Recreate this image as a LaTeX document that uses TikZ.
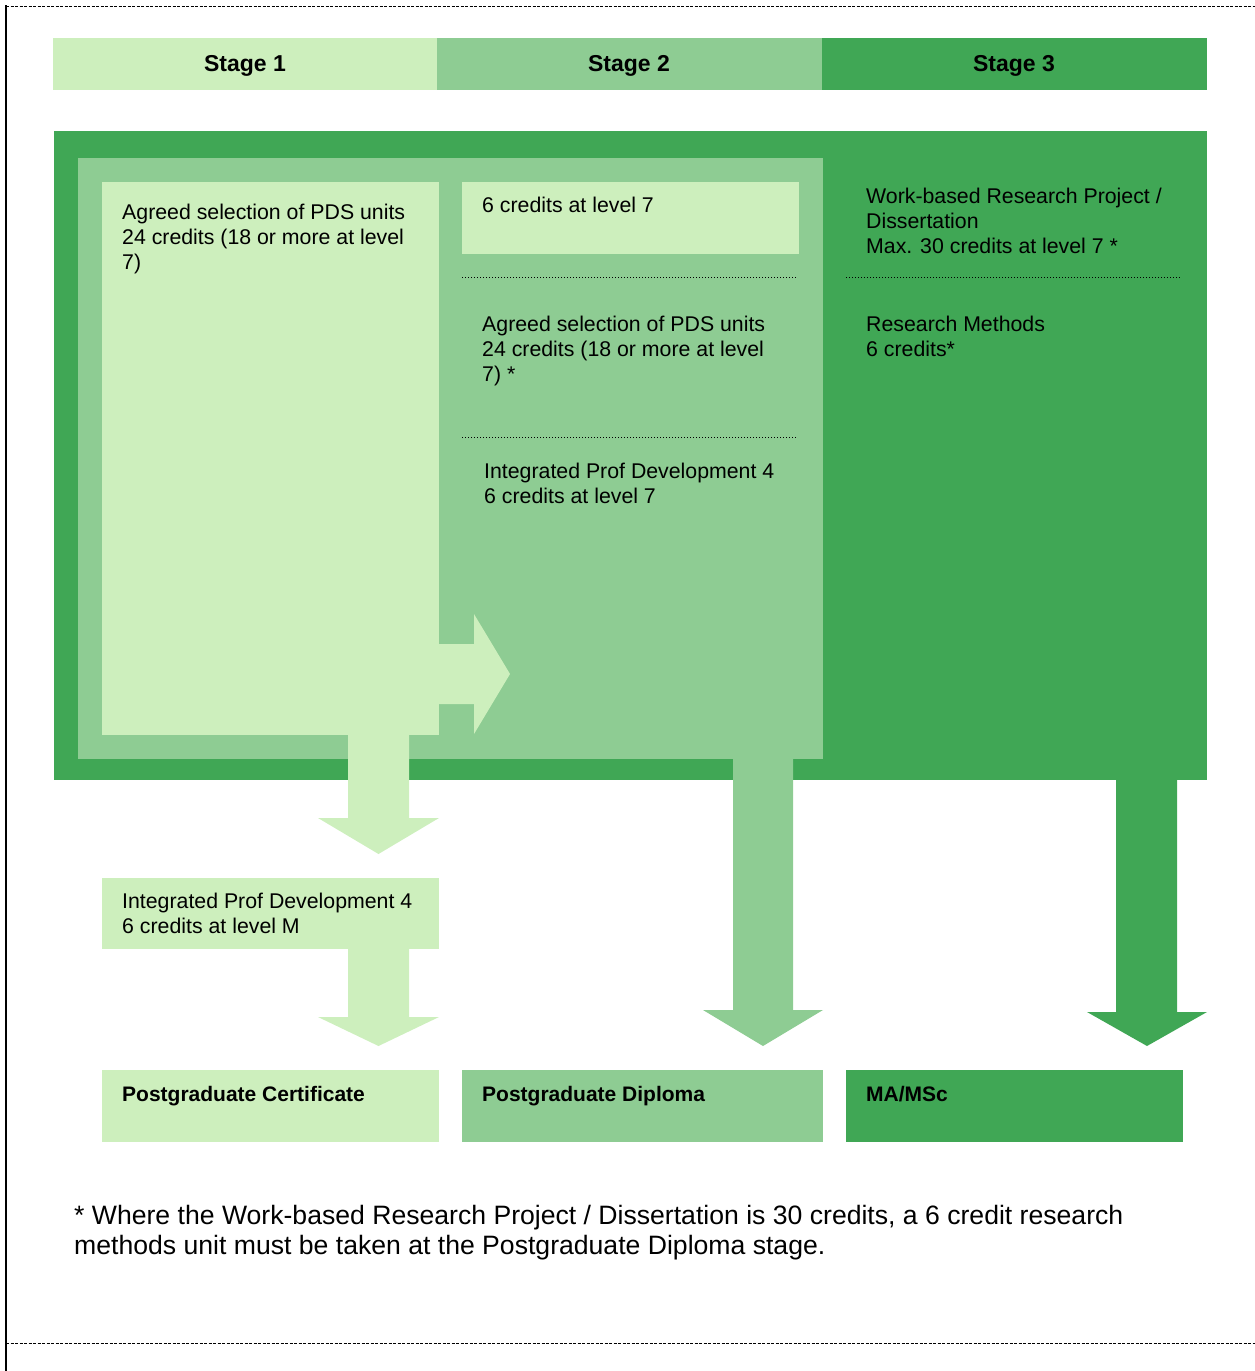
\documentclass[tikz,border=0pt]{standalone}
\usepackage{fontspec}
\setmainfont{Liberation Sans}
\definecolor{lightg}{HTML}{CDEFBD}
\definecolor{midg}{HTML}{8ECC93}
\definecolor{darkg}{HTML}{40A755}

% block arrow pointing down: colour, shaft left, shaft right, head left, head right, top, head start, tip
\newcommand\dnblock[8]{%
  \fill[#1] (#2,#6) -- (#3,#6) -- (#3,#7) -- (#5,#7) -- ({(#4+#5)/2},#8)
    -- (#4,#7) -- (#2,#7) -- cycle;}

\begin{document}
\begin{tikzpicture}[x=1pt,y=-1pt,
  box/.style={fill=#1,draw=none,inner sep=0pt,anchor=north west},
  hdr/.style={font=\fontsize{23}{27}\selectfont\bfseries},
  % multi-line text nodes are placed at the baseline of their last line
  txt/.style={font=\fontsize{21.3}{25}\selectfont,align=left,inner sep=0pt,anchor=base west},
  btxt/.style={font=\fontsize{21}{25}\selectfont\bfseries,inner sep=0pt,anchor=base west},
  ftxt/.style={font=\fontsize{26.6}{30}\selectfont,align=left,inner sep=0pt,anchor=base west},
  dotline/.style={line width=1.1pt,dash pattern=on 1.1pt off 1.9pt},
  border/.style={line width=0.8pt,dash pattern=on 3pt off 1.5pt}]

\useasboundingbox (0,0) rectangle (1255,1371);

% frame
\draw[border] (6,6) -- (1255,6);
\draw[border] (6,1343) -- (1255,1343);
\draw[line width=2pt] (6,5) -- (6,1371);

% stage headers
\node[box=lightg,minimum width=384pt,minimum height=52pt] (h1) at (53,38) {};
\node[box=midg,minimum width=385pt,minimum height=52pt] (h2) at (437,38) {};
\node[box=darkg,minimum width=385pt,minimum height=52pt] (h3) at (822,38) {};
\node[hdr,anchor=base] (l1) at (245,71) {Stage 1};
\node[hdr,anchor=base] (l2) at (629,71) {Stage 2};
\node[hdr,anchor=base] (l3) at (1014,71) {Stage 3};

% nested stage panels
\node[box=darkg,minimum width=1153pt,minimum height=649pt] (p3) at (54,131) {};
\node[box=midg,minimum width=745pt,minimum height=601pt] (p2) at (78,158) {};
\node[box=lightg,minimum width=337pt,minimum height=553pt] (p1) at (102,182) {};

% stage 1 content
\node[txt] (t1) at (122,269) {Agreed selection of PDS units\\24 credits (18 or more at level\\7)};

% stage 2 content
\node[box=lightg,minimum width=337pt,minimum height=72pt] (s2a) at (462,182) {};
\node[txt] (t2a) at (482,212) {6 credits at level 7};
\draw[dotline] (462,277.5) -- (797,277.5);
\node[txt] (t2b) at (482,381) {Agreed selection of PDS units\\24 credits (18 or more at level\\7) *};
\draw[dotline] (462,437.5) -- (797,437.5);
\node[txt] (t2c) at (484,503) {Integrated Prof Development 4\\6 credits at level 7};

% stage 3 content
\node[txt] (t3a) at (866,253) {Work-based Research Project /\\Dissertation\\Max. 30 credits at level 7 *};
\draw[dotline] (846,277.5) -- (1181,277.5);
\node[txt] (t3b) at (866,356) {Research Methods\\6 credits*};

% block arrows
\fill[lightg] (435,644) -- (474,644) -- (474,614) -- (510,674) -- (474,734)
  -- (474,704) -- (435,704) -- cycle;
\dnblock{lightg}{348}{409}{318}{439}{734}{818}{854}
\dnblock{midg}{733}{793}{703}{823}{758}{1010}{1046}
\dnblock{darkg}{1116}{1177}{1087}{1207}{779}{1012}{1046}

% integrated development box
\node[box=lightg,minimum width=337pt,minimum height=71pt] (ipd) at (102,878) {};
\node[txt] (tipd) at (122,933) {Integrated Prof Development 4\\6 credits at level M};
\dnblock{lightg}{348}{409}{318}{439}{948}{1017}{1046}

% awards
\node[box=lightg,minimum width=337pt,minimum height=72pt] (a1) at (102,1070) {};
\node[btxt] (ta1) at (122,1101) {Postgraduate Certificate};
\node[box=midg,minimum width=361pt,minimum height=72pt] (a2) at (462,1070) {};
\node[btxt] (ta2) at (482,1101) {Postgraduate Diploma};
\node[box=darkg,minimum width=337pt,minimum height=72pt] (a3) at (846,1070) {};
\node[btxt] (ta3) at (866,1101) {MA/MSc};

% footnote
\node[ftxt] (fn) at (74,1254) {* Where the Work-based Research Project / Dissertation is 30 credits, a 6 credit research\\methods unit must be taken at the Postgraduate Diploma stage.};

\end{tikzpicture}
\end{document}
